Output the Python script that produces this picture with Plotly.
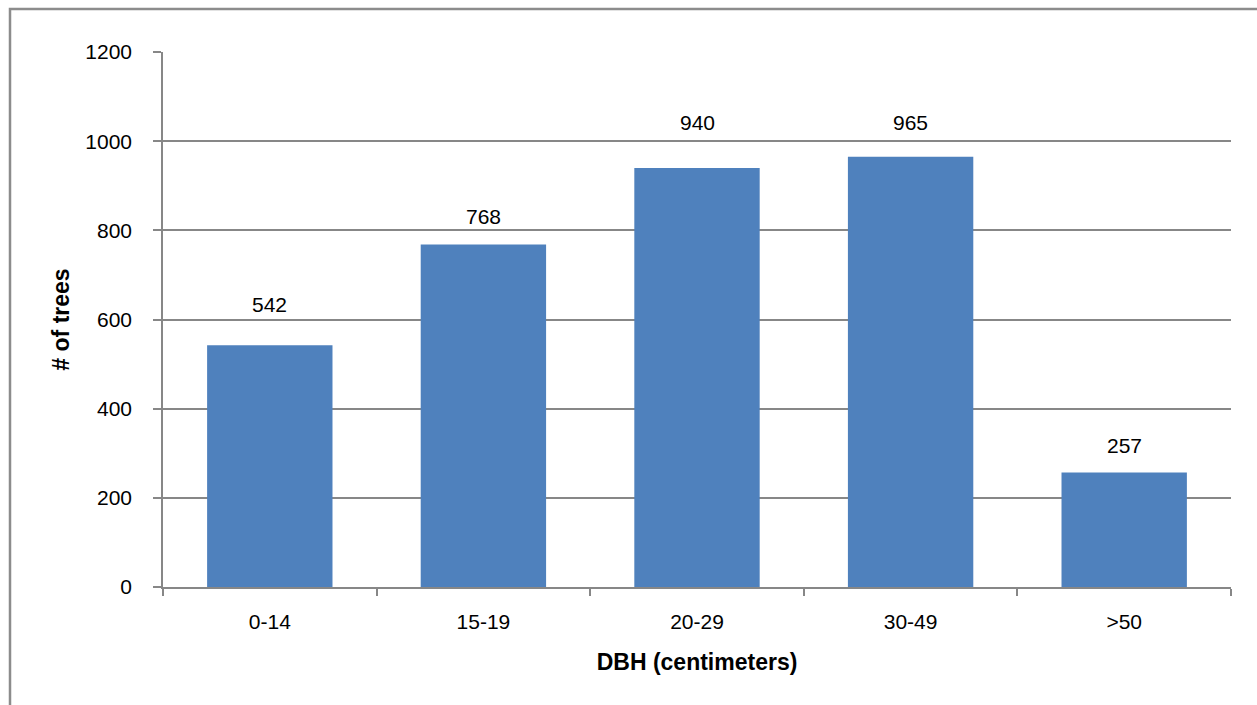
import plotly.graph_objects as go

# Tree counts by diameter-at-breast-height class
dbh_classes = ["0-14", "15-19", "20-29", "30-49", ">50"]
tree_counts = [542, 768, 940, 965, 257]
y_ticks = [0, 200, 400, 600, 800, 1000, 1200]

# vertical pixel offsets of the value labels above each bar
label_offsets = [41, 28, 45, 34, 27]

BAR = "#4F81BD"
GRID = "#878787"
FONT = "Liberation Sans"
SIZE = 21

fig = go.Figure()
fig.add_trace(go.Bar(
    x=dbh_classes, y=tree_counts,
    marker=dict(color=BAR, line=dict(width=0)),
    hoverinfo="x+y",
))

for cat, val, off in zip(dbh_classes, tree_counts, label_offsets):
    fig.add_annotation(
        x=cat, y=val, yshift=off, text=str(val), showarrow=False,
        xanchor="center", yanchor="middle",
        font=dict(family=FONT, size=SIZE, color="#000000"),
    )

W, H = 1257, 705
L, R, T, B = 163, 26, 52, 118
pw, ph = W - L - R, H - T - B

# outer chart frame (runs off the right and bottom edges)
fig.add_shape(
    type="rect", xref="paper", yref="paper",
    x0=(10 - L) / pw, x1=(W + 20 - L) / pw,
    y0=-(B + 20) / ph, y1=1 + (T - 9) / ph,
    line=dict(color="#8C8C8C", width=2.5), fillcolor="rgba(0,0,0,0)",
    layer="below",
)

fig.update_layout(
    width=W, height=H,
    margin=dict(l=L, r=R, t=T, b=B, pad=0),
    paper_bgcolor="white", plot_bgcolor="white",
    bargap=0.413,
    showlegend=False,
    font=dict(family=FONT, size=SIZE, color="#000000"),
    xaxis=dict(
        type="category",
        showline=True, linecolor=GRID, linewidth=1.5,
        ticks="outside", tickson="boundaries", ticklen=7, tickcolor=GRID, tickwidth=1.5,
        ticklabelstandoff=15,
        tickfont=dict(family=FONT, size=SIZE),
        showgrid=False,
        title=dict(text="<b>DBH (centimeters)</b>", font=dict(family=FONT, size=23), standoff=22),
    ),
    yaxis=dict(
        range=[0, 1200], tickvals=y_ticks,
        showline=True, linecolor=GRID, linewidth=1.5,
        ticks="outside", ticklen=8, tickcolor=GRID, tickwidth=1.5,
        ticklabelstandoff=17,
        tickfont=dict(family=FONT, size=SIZE),
        showgrid=True, gridcolor=GRID, gridwidth=1.5,
        zeroline=False,
        title=dict(text="<b># of trees</b>", font=dict(family=FONT, size=23), standoff=9),
    ),
)

fig.write_html("out.html")
